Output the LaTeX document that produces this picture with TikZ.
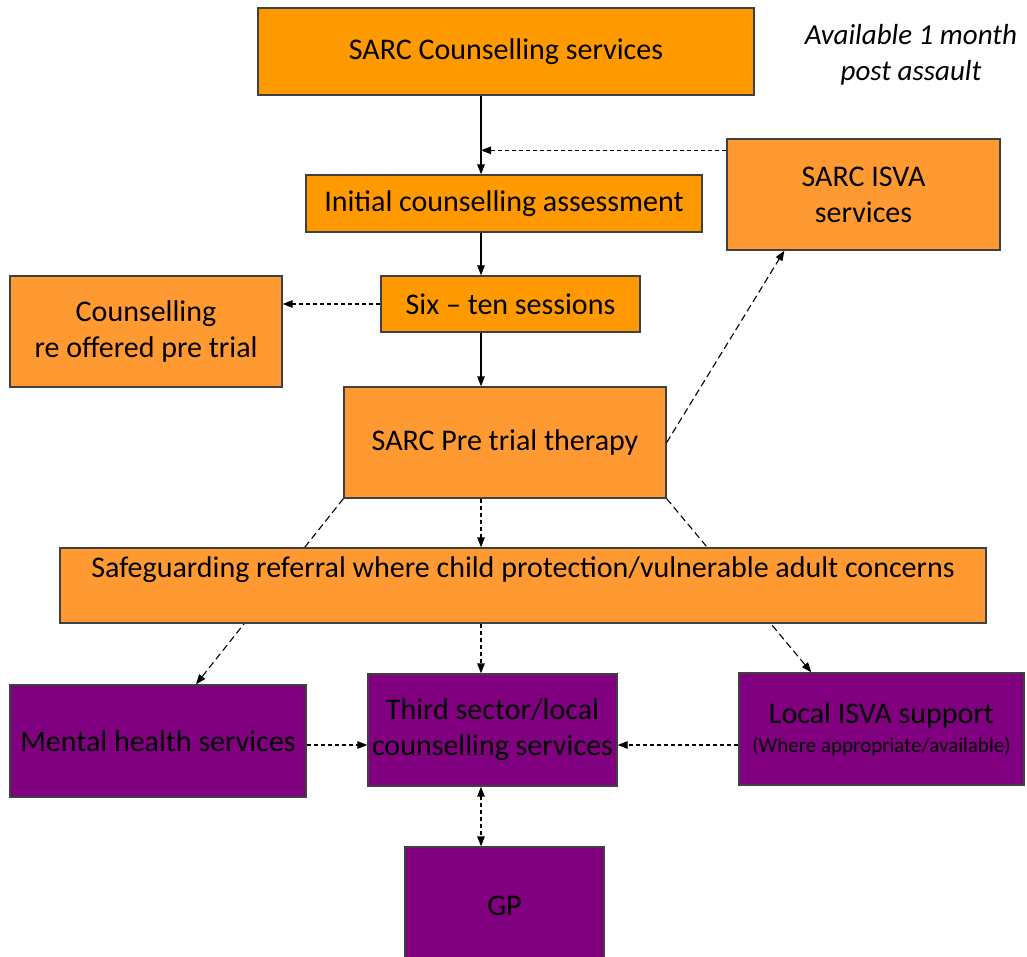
\documentclass[tikz,border=0pt]{standalone}
\usepackage{fontspec}
\setmainfont{Carlito}
\usetikzlibrary{arrows.meta}
\definecolor{orA}{HTML}{FF9900}
\definecolor{orB}{HTML}{FF9A33}
\definecolor{purp}{HTML}{800080}
\begin{document}
\begin{tikzpicture}[x=1pt,y=-1pt,
  >={Triangle[length=10pt,width=7.5pt]},
  box/.style={draw=black!75, line width=1.3pt, inner sep=0pt, align=center,
    font=\fontsize{30}{36}\selectfont},
  obox/.style={box, fill=orA},
  lbox/.style={box, fill=orB},
  pbox/.style={box, fill=purp},
  sol/.style={line width=1.3pt, ->},
  dsh/.style={line width=1.3pt, dash pattern=on 4pt off 3pt, ->},
  ldsh/.style={line width=1.1pt, dash pattern=on 7pt off 4pt, ->},
]
\useasboundingbox (0,0) rectangle (1027,957);
\fill[white] (0,0) rectangle (1027,957);
\coordinate (spine) at (481,0);
\coordinate (row) at (0,745);

\node[obox, minimum width=496pt, minimum height=87pt] (sarc) at (506,51.5) {SARC Counselling services};
\node[align=center, inner sep=0pt, font=\fontsize{29}{36}\selectfont\itshape] (note) at (911,55) {Available 1 month\\post assault};
\node[obox, minimum width=396pt, minimum height=57pt] (init) at (504,203.5) {Initial counselling assessment};
\node[lbox, minimum width=273pt, minimum height=111pt] (isva) at (863.5,194.5) {SARC ISVA\\services};
\node[obox, minimum width=259pt, minimum height=56pt] (six) at (510.5,304) {Six -- ten sessions};
\node[lbox, minimum width=272pt, minimum height=111pt] (reoff) at (146,331.5) {Counselling\\re offered pre trial};
\node[lbox, minimum width=322pt, minimum height=111pt] (pre) at (505,442.5) {SARC Pre trial therapy};
\node[pbox, minimum width=296pt, minimum height=112pt] (mh) at (158,741) {Mental health\ services};
\node[pbox, minimum width=249pt, minimum height=112pt] (third) at (492.5,730) {Third sector/local\\counselling services};
\node[pbox, minimum width=285pt, minimum height=112pt] (lisva) at (881.5,729) {Local ISVA support\\[-7pt]{\fontsize{21}{24}\selectfont (Where appropriate/available)}};
\node[pbox, minimum width=199pt, minimum height=118pt] (gp) at (504.5,906) {GP};

% diagonal connectors passing behind the safeguarding box
\draw[ldsh] (pre.south west) -- ([xshift=38pt]mh.north);
\draw[ldsh] (pre.south east) -- ([xshift=73pt]lisva.north west);

\node[lbox, minimum width=926pt, text height=29pt, text depth=46pt] (safe) at (523,585.5) {Safeguarding referral where child protection/vulnerable adult concerns};

\draw[sol] (spine |- sarc.south) -- (spine |- init.north);
\coordinate (isvaout) at ([yshift=-12pt]isva.north west);
\draw[dsh] (isvaout) -- (spine |- isvaout);
\draw[sol] (spine |- init.south) -- (spine |- six.north);
\draw[dsh] (six.west) -- (reoff.east |- six.west);
\draw[sol] (spine |- six.south) -- (spine |- pre.north);
\draw[ldsh] (pre.east) -- ([xshift=58pt]isva.south west);
\draw[dsh] (spine |- pre.south) -- (spine |- safe.north);
\draw[dsh] (spine |- safe.south) -- (spine |- third.north);
\draw[dsh] (mh.east |- row) -- (third.west |- row);
\draw[dsh] (lisva.west |- row) -- (third.east |- row);
\draw[dsh, <->] (spine |- third.south) -- (spine |- gp.north);
\end{tikzpicture}
\end{document}
